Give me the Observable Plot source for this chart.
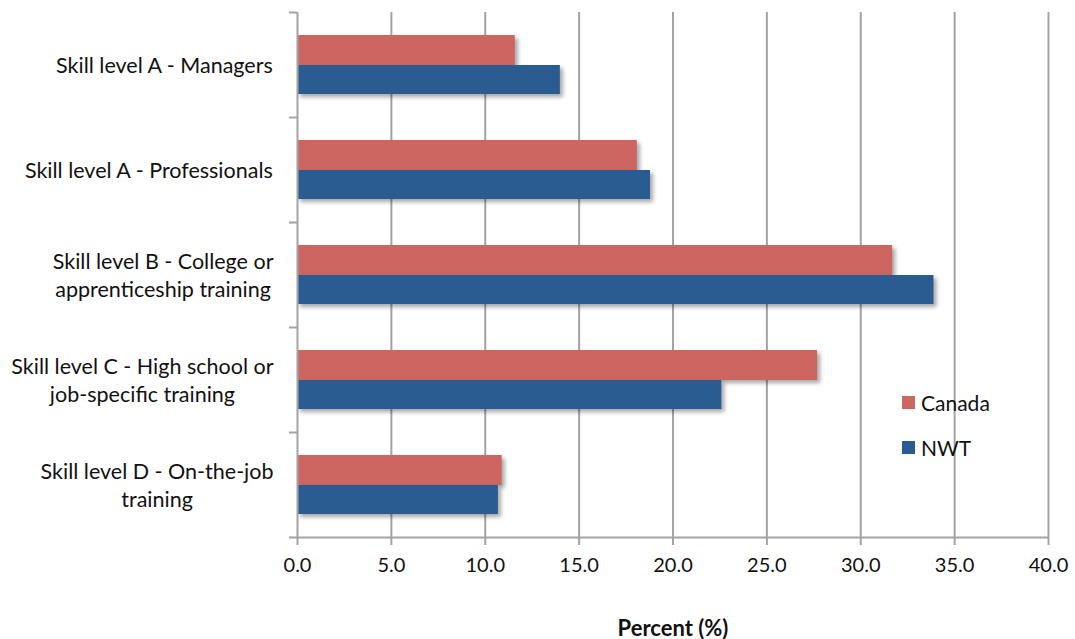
<!DOCTYPE html>
<html>
<head>
<meta charset="utf-8">
<script src="https://cdn.jsdelivr.net/npm/d3@7"></script>
<script src="https://cdn.jsdelivr.net/npm/@observablehq/plot@0.6"></script>
<style>
  body { margin: 0; background: #fff; }
  #wrap { position: relative; width: 1075px; height: 639px; font-family: Lato, sans-serif; }
  #chart svg g[aria-label="bar"] { filter: drop-shadow(3px 3px 2px rgba(0,0,0,0.35)); }
  #chart svg g[aria-label="x-axis label"] text { font-weight: bold; font-size: 22px; }
  .legend { position: absolute; left: 902px; font-size: 21px; color: #111; }
  .legend .item { display: flex; align-items: center; height: 24px; }
  .legend .sw { width: 13px; height: 13px; margin-right: 6px; }
</style>
</head>
<body>
<div id="wrap"><div id="chart"></div>
  <div class="legend" id="legend"></div>
</div>
<script>
// ---- data ----
const categories = [
  "Skill level A - Managers",
  "Skill level A - Professionals",
  "Skill level B - College or apprenticeship training",
  "Skill level C - High school or job-specific training",
  "Skill level D - On-the-job training"
];
const categoryLabels = [
  "Skill level A - Managers",
  "Skill level A - Professionals",
  "Skill level B - College or\napprenticeship training",
  "Skill level C - High school or\njob-specific training",
  "Skill level D - On-the-job\ntraining"
];
const seriesNames = ["Canada", "NWT"];
const canadaValues = [11.6, 18.1, 31.7, 27.7, 10.9];
const nwtValues = [14.0, 18.8, 33.9, 22.6, 10.7];
const xTicks = [0, 5, 10, 15, 20, 25, 30, 35, 40];
const xLabel = "Percent (%)";

// ---- style ----
const colors = { Canada: "#CD6660", NWT: "#2A5C92" };
const W = 1075, H = 639, mTop = 12, mBottom = 102, mLeft = 297, mRight = 27;
const band = (H - mTop - mBottom) / categories.length;
const fontSize = 20;
const labelFontSize = 21.5;
const gridColor = "#a3a3a3";

const rows = [];
categories.forEach((c, i) => {
  rows.push({ category: c, series: "Canada", value: canadaValues[i] });
  rows.push({ category: c, series: "NWT", value: nwtValues[i] });
});

// measure label widths to center multi-line labels as a block
const ctx = document.createElement("canvas").getContext("2d");
ctx.font = `${labelFontSize}px Lato`;
const labelMarks = categories.map((c, i) => {
  const lines = categoryLabels[i].split("\n");
  const w = Math.max(...lines.map(l => ctx.measureText(l).width));
  return Plot.text([c], {
    y: d => d, frameAnchor: "left", text: () => categoryLabels[i],
    textAnchor: "middle", lineAnchor: "middle", lineHeight: 1.3,
    dx: -(24 + w / 2), dy: -1, fill: "#111", fontSize: labelFontSize
  });
});

const chart = Plot.plot({
  width: W, height: H,
  marginTop: mTop, marginBottom: mBottom, marginLeft: mLeft, marginRight: mRight,
  style: { fontFamily: "Lato, sans-serif", fontSize: fontSize + "px", background: "white", color: "#111" },
  x: { domain: [0, 40] },
  y: { domain: categories, padding: 0, axis: null },
  marks: [
    Plot.gridX(xTicks.filter(t => t > 0), { stroke: gridColor, strokeOpacity: 1, strokeWidth: 2 }),
    Plot.barX(rows.filter(d => d.series === "Canada"), {
      x: "value", y: "category", fill: colors.Canada, insetTop: 23, insetBottom: 52
    }),
    Plot.barX(rows.filter(d => d.series === "NWT"), {
      x: "value", y: "category", fill: colors.NWT, insetTop: 53, insetBottom: 23
    }),
    Plot.ruleX([0], { stroke: gridColor, strokeWidth: 2 }),
    Plot.ruleY(categories, { y: d => d, x1: -0.43, x2: 0, dy: -band / 2, stroke: gridColor, strokeWidth: 2 }),
    Plot.ruleY([categories[categories.length - 1]], { y: d => d, x1: -0.43, x2: 40, dy: band / 2, stroke: gridColor, strokeWidth: 2 }),
    Plot.axisX({
      ticks: xTicks, tickFormat: d3.format(".1f"), tickSize: 8, tickPadding: 12,
      stroke: gridColor, strokeWidth: 2, fontSize, color: "#111",
      label: xLabel, labelAnchor: "center", labelOffset: 98, labelArrow: "none"
    }),
    ...labelMarks
  ]
});
document.getElementById("chart").appendChild(chart);

// legend
const legend = document.getElementById("legend");
legend.style.top = "390px";
seriesNames.forEach((s, i) => {
  const item = document.createElement("div");
  item.className = "item";
  item.style.marginBottom = i === 0 ? "21px" : "0";
  item.innerHTML = `<span class="sw" style="background:${colors[s]}"></span><span>${s}</span>`;
  legend.appendChild(item);
});
</script>
</body>
</html>
